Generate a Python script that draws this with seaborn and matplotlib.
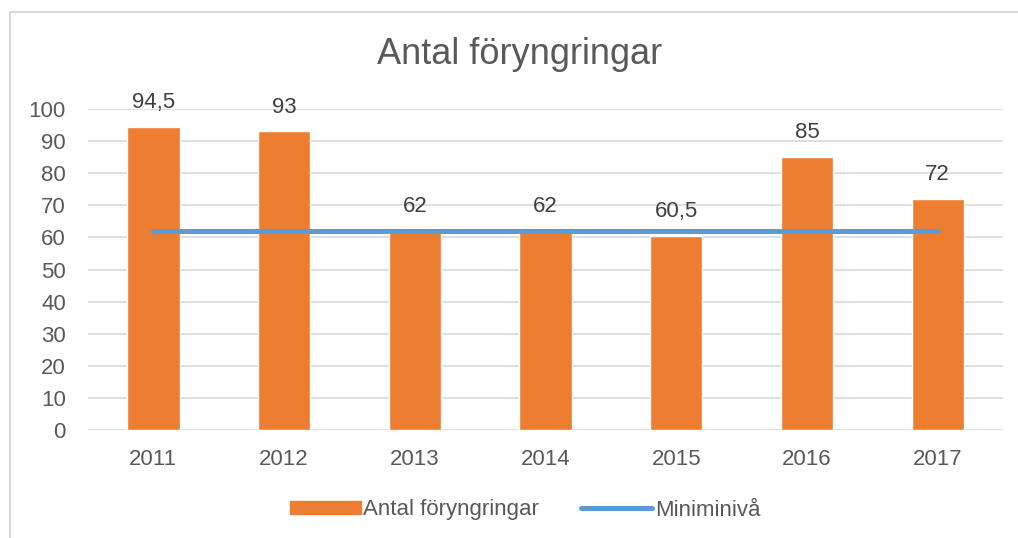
import matplotlib.pyplot as plt
import matplotlib.lines as mlines
import matplotlib.patches as mpatches
import pandas as pd
import seaborn as sns

years = ['2011', '2012', '2013', '2014', '2015', '2016', '2017']
antal = [94.5, 93, 62, 62, 60.5, 85, 72]
miniminiva = [62, 62, 62, 62, 62, 62, 62]

df = pd.DataFrame({'År': years, 'Antal föryngringar': antal, 'Miniminivå': miniminiva})

sns.set_style("white")
plt.rcParams['font.family'] = ['Liberation Sans', 'DejaVu Sans']

orange = '#ED7D31'
blue = '#5B9BD5'
grey_txt = '#595959'

fig = plt.figure(figsize=(10.18, 5.38), dpi=100)
ax = fig.add_axes([88 / 1018, 1 - 430 / 538, (1003 - 88) / 1018, (430 - 109) / 538])

sns.barplot(data=df, x='År', y='Antal föryngringar', color=orange, width=0.4,
            saturation=1, ax=ax, zorder=2)
sns.lineplot(data=df, x='År', y='Miniminivå', color=blue, linewidth=3.6, ax=ax,
             zorder=3, solid_capstyle='round')

ax.set_ylim(0, 100)
ax.set_yticks(range(0, 101, 10))
ax.set_xlim(-0.5, len(years) - 0.5)
ax.yaxis.grid(True, color='#D9D9D9', linewidth=1.2, zorder=0)
ax.set_axisbelow(True)
for s in ax.spines.values():
    s.set_visible(False)
ax.set_xlabel('')
ax.set_ylabel('')
ax.tick_params(axis='y', length=0, pad=16, labelsize=16, labelcolor=grey_txt)
ax.tick_params(axis='x', length=0, pad=14, labelsize=16, labelcolor=grey_txt)

for c in ax.containers:
    ax.bar_label(c, labels=[f'{v:g}'.replace('.', ',') for v in antal],
                 padding=10, fontsize=16, color='#404040')

fig.text(520 / 1018, 1 - 55 / 538, 'Antal föryngringar', ha='center', va='center',
         fontsize=26, color=grey_txt)

handles = [mpatches.Patch(color=orange, label='Antal föryngringar'),
           mlines.Line2D([], [], color=blue, linewidth=3.6, solid_capstyle='round',
                         label='Miniminivå')]
fig.legend(handles=handles, loc='center', bbox_to_anchor=(525 / 1018, 1 - 510 / 538),
           ncol=2, frameon=False, fontsize=16, labelcolor=grey_txt,
           handlelength=3.2, handleheight=0.55, handletextpad=0.1, columnspacing=1.9)

# chart frame (top and left visible)
fig.add_artist(mlines.Line2D([10 / 1018, 10 / 1018], [0, 1 - 12 / 538],
                             transform=fig.transFigure, color='#D9D9D9', linewidth=1.5))
fig.add_artist(mlines.Line2D([10 / 1018, 1], [1 - 12 / 538, 1 - 12 / 538],
                             transform=fig.transFigure, color='#D9D9D9', linewidth=1.5))

fig.savefig('out.png', dpi=100)
